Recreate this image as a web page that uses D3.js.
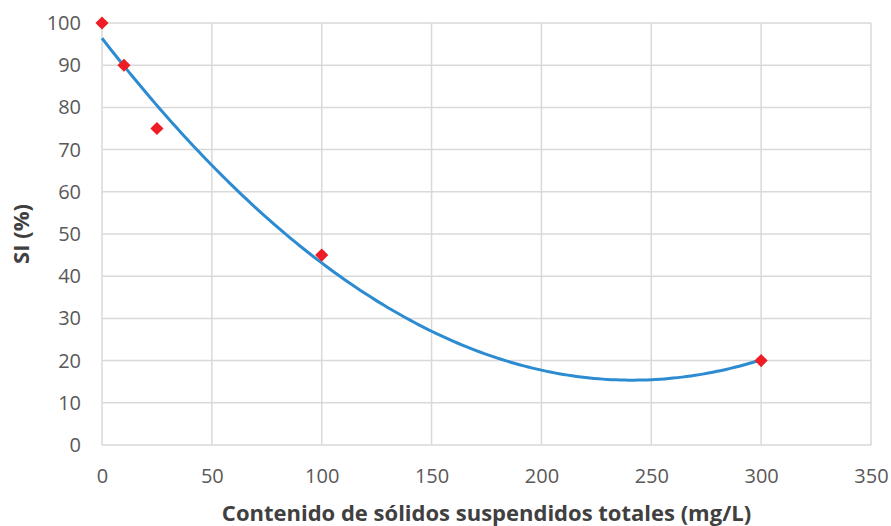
<!DOCTYPE html>
<html>
<head>
<meta charset="utf-8">
<script src="https://cdn.jsdelivr.net/npm/d3@7"></script>
<style>
  body { margin: 0; background: #fff; }
  svg text { font-family: "Open Sans", sans-serif; }
</style>
</head>
<body>
<svg id="chart" width="891" height="526"></svg>
<script>
// data
const sstValues = [0, 10, 25, 100, 300];
const siValues = [100, 90, 75, 45, 20];
const xTicks = [0, 50, 100, 150, 200, 250, 300, 350];
const yTicks = [0, 10, 20, 30, 40, 50, 60, 70, 80, 90, 100];

const margin = {top: 23, right: 20, bottom: 81, left: 102};
const width = 871 - margin.left;
const height = 445 - margin.top;

const svg = d3.select("#chart").append("g")
    .attr("transform", `translate(${margin.left},${margin.top})`);

const x = d3.scaleLinear().domain([0, 350]).range([0, width]);
const y = d3.scaleLinear().domain([0, 100]).range([height, 0]);

// grid
svg.append("g").selectAll("line").data(yTicks).join("line")
    .attr("x1", 0).attr("x2", width)
    .attr("y1", d => y(d)).attr("y2", d => y(d))
    .attr("stroke", "#d9d9d9").attr("stroke-width", 1.5);
svg.append("g").selectAll("line").data(xTicks).join("line")
    .attr("x1", d => x(d)).attr("x2", d => x(d))
    .attr("y1", 0).attr("y2", height)
    .attr("stroke", "#d9d9d9").attr("stroke-width", 1.5);

// axes (labels only)
const xAxis = svg.append("g")
    .attr("transform", `translate(0,${height})`)
    .call(d3.axisBottom(x).tickValues(xTicks).tickSize(0).tickPadding(24));
const yAxis = svg.append("g")
    .call(d3.axisLeft(y).tickValues(yTicks).tickSize(0).tickPadding(21));
[xAxis, yAxis].forEach(a => {
    a.select(".domain").remove();
    a.selectAll("text").attr("font-size", 20).attr("fill", "#595959")
        .attr("font-family", "Open Sans, sans-serif");
});

// polynomial (order 2) trendline, least squares from the points
function polyFit(xs, ys) {
    const s = k => d3.sum(xs, v => Math.pow(v, k));
    const t = k => d3.sum(xs, (v, i) => Math.pow(v, k) * ys[i]);
    const A = [[s(0), s(1), s(2), t(0)], [s(1), s(2), s(3), t(1)], [s(2), s(3), s(4), t(2)]];
    for (let i = 0; i < 3; i++) {
        for (let j = i + 1; j < 3; j++) {
            const f = A[j][i] / A[i][i];
            for (let k = i; k < 4; k++) A[j][k] -= f * A[i][k];
        }
    }
    const c = [0, 0, 0];
    for (let i = 2; i >= 0; i--) {
        let v = A[i][3];
        for (let k = i + 1; k < 3; k++) v -= A[i][k] * c[k];
        c[i] = v / A[i][i];
    }
    return c;
}
const coef = polyFit(sstValues, siValues);
const trendX = d3.range(0, 301, 2);
svg.append("path")
    .datum(trendX)
    .attr("fill", "none")
    .attr("stroke", "#2d8bd2")
    .attr("stroke-width", 3)
    .attr("d", d3.line()
        .x(d => x(d))
        .y(d => y(coef[0] + coef[1] * d + coef[2] * d * d)));

// markers
svg.selectAll(".pt").data(sstValues).join("path")
    .attr("class", "pt")
    .attr("transform", (d, i) => `translate(${x(d)},${y(siValues[i])})`)
    .attr("d", d3.symbol().type(d3.symbolDiamond2).size(110))
    .attr("fill", "#ee1c24");

// titles
svg.append("text")
    .text("Contenido de sólidos suspendidos totales (mg/L)")
    .attr("x", width / 2)
    .attr("y", height + 76)
    .attr("text-anchor", "middle")
    .attr("font-size", 22)
    .attr("font-weight", "bold")
    .attr("fill", "#404040");
svg.append("text")
    .text("SI (%)")
    .attr("transform", `translate(${-73},${height / 2})rotate(-90)`)
    .attr("text-anchor", "middle")
    .attr("font-size", 22)
    .attr("font-weight", "bold")
    .attr("fill", "#404040");
</script>
</body>
</html>
